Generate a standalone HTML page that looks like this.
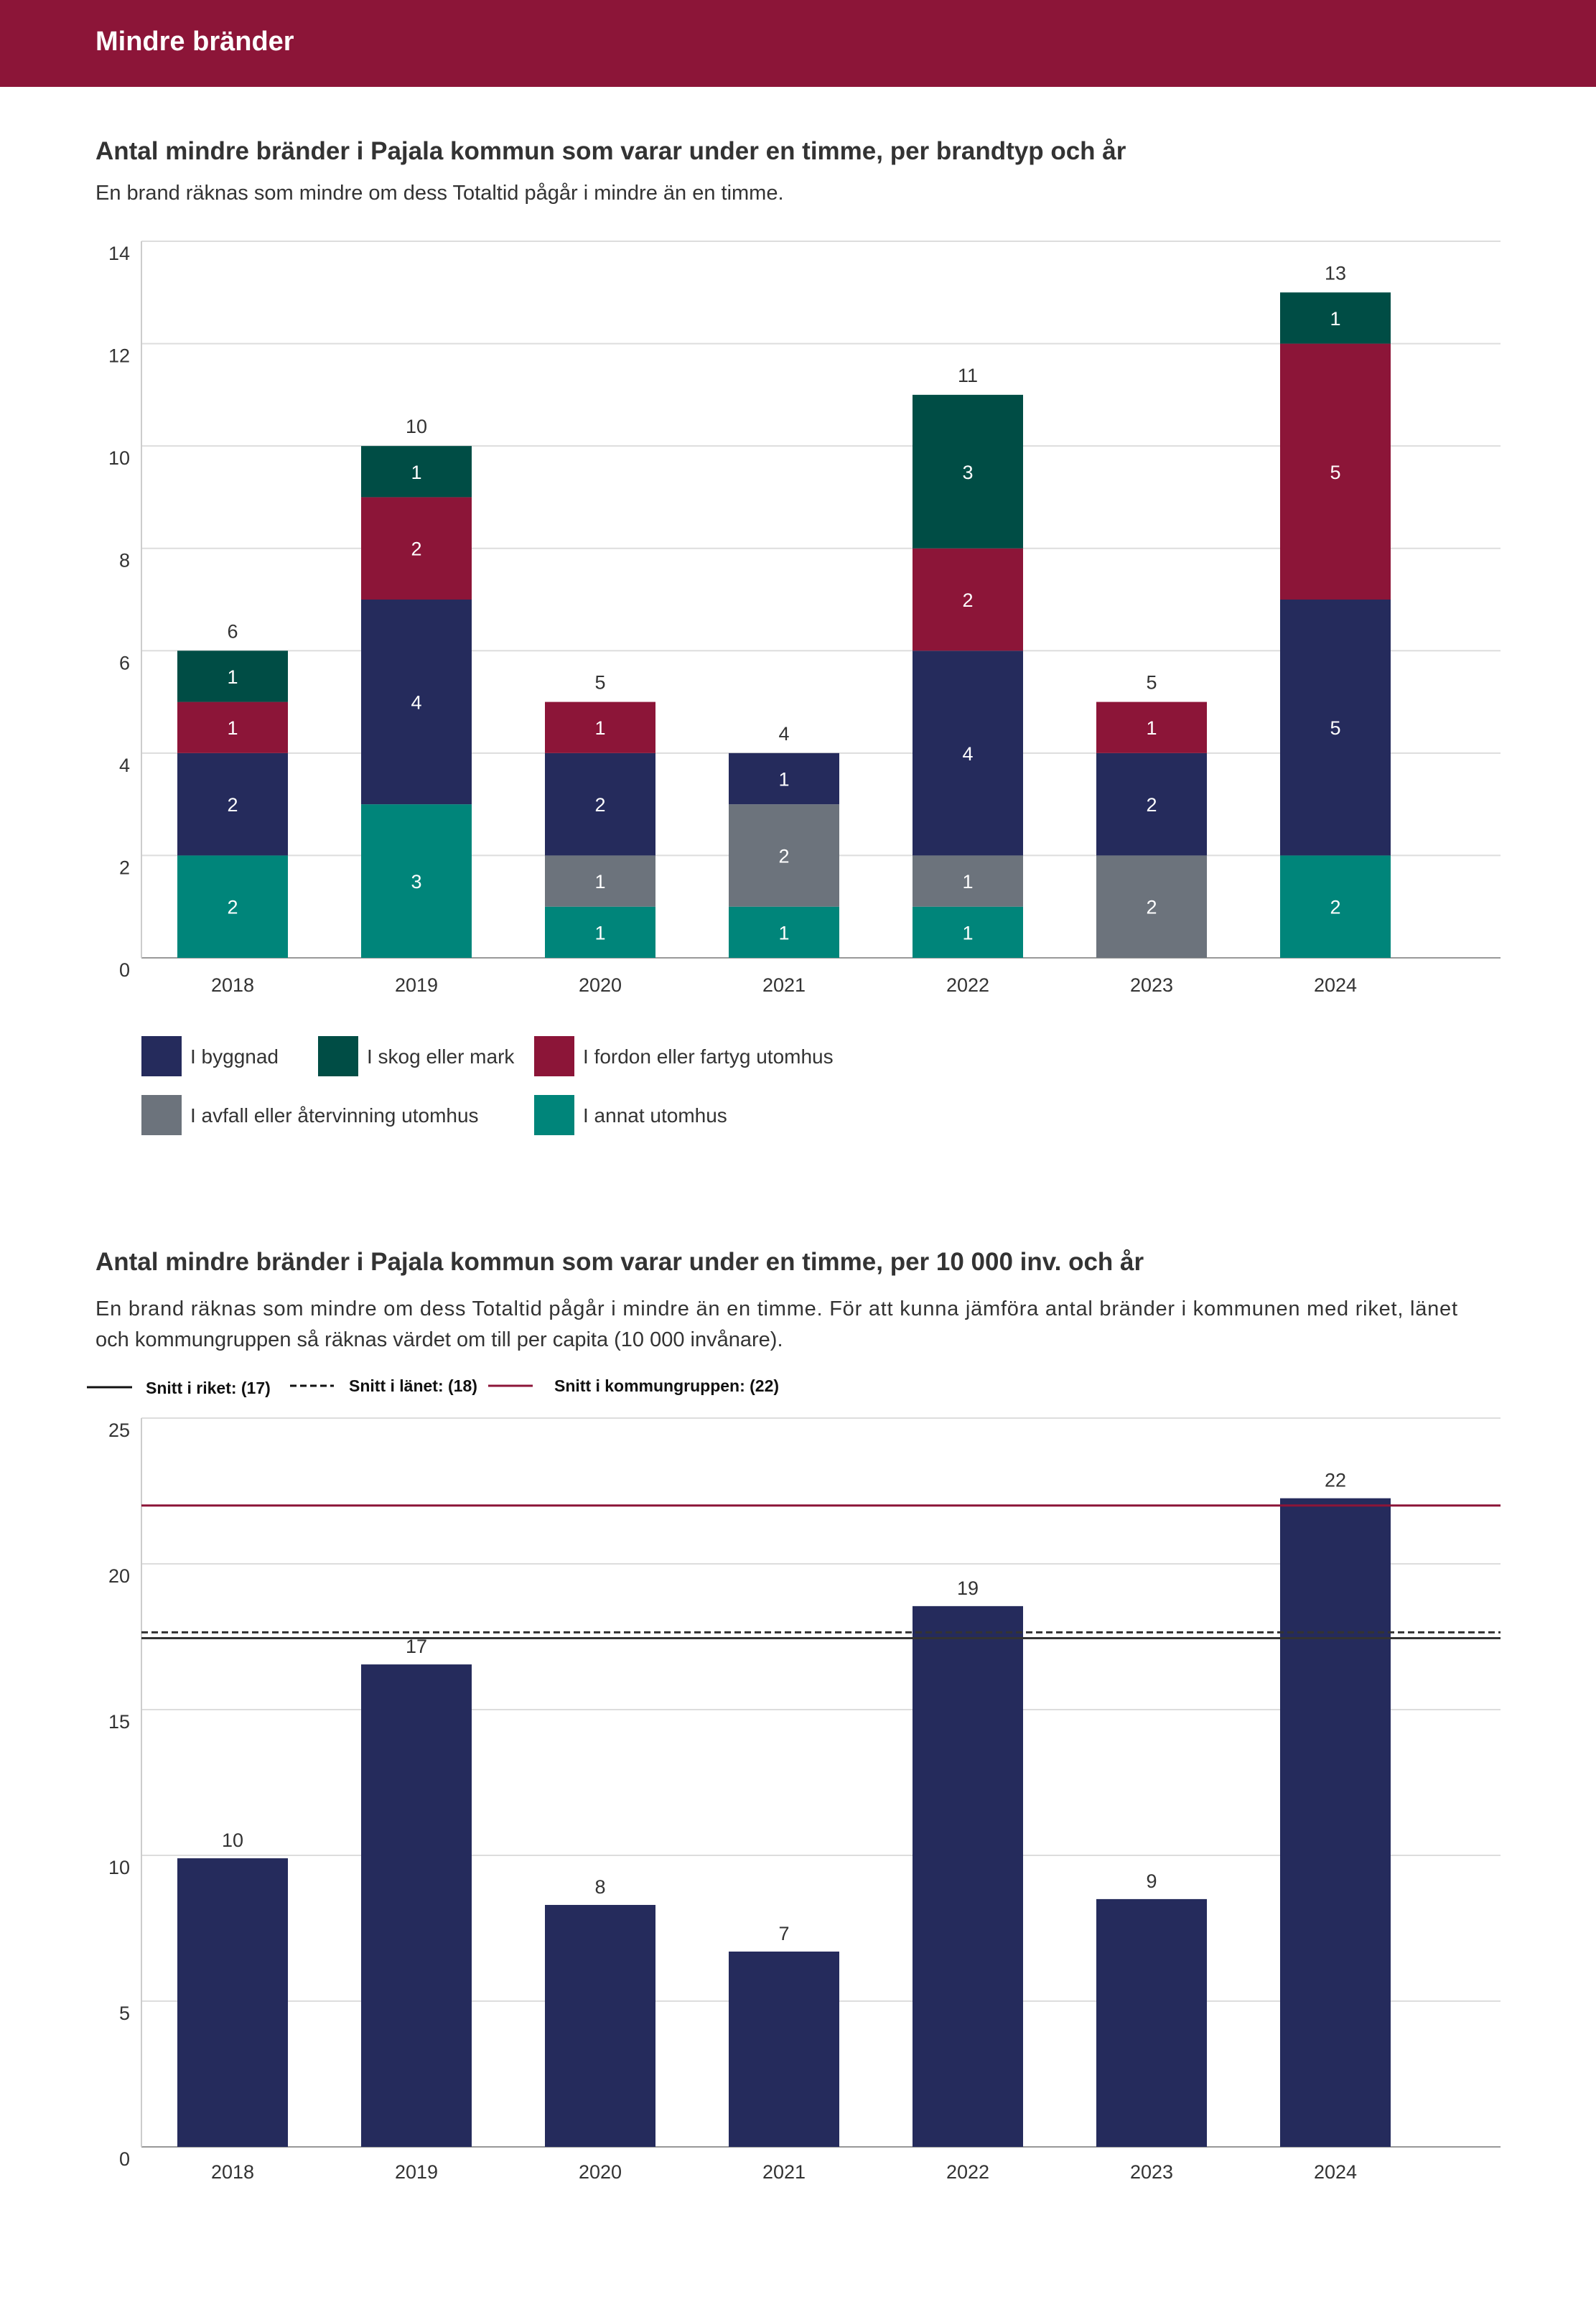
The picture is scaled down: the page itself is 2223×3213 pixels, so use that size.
<!DOCTYPE html>
<html><head><meta charset="utf-8"><style>
html,body{margin:0;padding:0;background:#fff}
svg{display:block;font-family:"Liberation Sans",sans-serif}
</style></head><body>
<svg id="page" width="2223" height="3213" viewBox="0 0 2223 3213" xmlns="http://www.w3.org/2000/svg">
<rect x="0" y="0" width="2223" height="121" fill="#8c1538"/>
<text x="133" y="70" font-size="38" font-weight="bold" fill="#fff">Mindre bränder</text>
<text x="133" y="222" font-size="35" font-weight="bold" fill="#333">Antal mindre bränder i Pajala kommun som varar under en timme, per brandtyp och år</text>
<text x="133" y="278" font-size="29" fill="#333">En brand räknas som mindre om dess Totaltid pågår i mindre än en timme.</text>
<g id="c1"></g>
<g font-size="28" fill="#333">
<rect x="197" y="1443" width="56" height="56" fill="#252b5c"/>
<text x="265" y="1481">I byggnad</text>
<rect x="443" y="1443" width="56" height="56" fill="#004d45"/>
<text x="511" y="1481">I skog eller mark</text>
<rect x="744" y="1443" width="56" height="56" fill="#8c1538"/>
<text x="812" y="1481">I fordon eller fartyg utomhus</text>
<rect x="197" y="1525" width="56" height="56" fill="#6c737c"/>
<text x="265" y="1563">I avfall eller återvinning utomhus</text>
<rect x="744" y="1525" width="56" height="56" fill="#00857a"/>
<text x="812" y="1563">I annat utomhus</text>
</g>
<text x="133" y="1769" font-size="35" font-weight="bold" fill="#333">Antal mindre bränder i Pajala kommun som varar under en timme, per 10 000 inv. och år</text>
<text x="133" y="1832" font-size="29" fill="#333" textLength="1897" lengthAdjust="spacing">En brand räknas som mindre om dess Totaltid pågår i mindre än en timme. För att kunna jämföra antal bränder i kommunen med riket, länet</text>
<text x="133" y="1875" font-size="29" fill="#333">och kommungruppen så räknas värdet om till per capita (10 000 invånare).</text>
<g font-size="23" font-weight="bold" fill="#111">
<line x1="121" y1="1932" x2="184" y2="1932" stroke="#111" stroke-width="3"/>
<text x="203" y="1941">Snitt i riket: (17)</text>
<line x1="404" y1="1930" x2="465" y2="1930" stroke="#111" stroke-width="3" stroke-dasharray="9,5"/>
<text x="486" y="1938">Snitt i länet: (18)</text>
<line x1="680" y1="1930" x2="742" y2="1930" stroke="#8c1538" stroke-width="3"/>
<text x="772" y="1938">Snitt i kommungruppen: (22)</text>
</g>
<g id="c2"></g>
</svg>
<script>
const years=["2018","2019","2020","2021","2022","2023","2024"];
const annat=[2,3,1,1,1,0,2];
const avfall=[0,0,1,2,1,2,0];
const byggnad=[2,4,2,1,4,2,5];
const fordon=[1,2,1,0,2,1,5];
const skog=[1,1,0,0,3,0,1];
const ticks1=[0,2,4,6,8,10,12,14];
const perCapita=[9.9,16.55,8.3,6.7,18.55,8.5,22.25];
const perCapitaLabels=["10","17","8","7","19","9","22"];
const ticks2=[0,5,10,15,20,25];
const riket=17.45, lanet=17.65, kommungrupp=22.0;

const NS="http://www.w3.org/2000/svg";
function mk(parent,tag,attrs,txt){const e=document.createElementNS(NS,tag);for(const k in attrs)e.setAttribute(k,attrs[k]);if(txt!==undefined)e.textContent=txt;parent.appendChild(e);return e;}
const X0=197,X1=2090,firstC=324,step=256,bw=154;
const xc=i=>firstC+i*step;

// chart 1
const c1=document.getElementById('c1');
const y1=v=>1334-v*(998/14);
ticks1.forEach(t=>{
  const l=mk(c1,'line',{x1:X0,x2:X1,y1:y1(t),y2:y1(t),stroke:t===0?'#999':'#ddd','stroke-width':2});
  
  
  const tx=mk(c1,'text',{x:181,y:y1(t)+26,'text-anchor':'end','font-size':27,fill:'#333'},t);
  
  
});
const ax=mk(c1,'line',{x1:X0,x2:X0,y1:y1(14),y2:y1(0),stroke:'#ccc','stroke-width':2});


const series=[[annat,'#00857a','annat'],[avfall,'#6c737c','avfall'],[byggnad,'#252b5c','byggnad'],[fordon,'#8c1538','fordon'],[skog,'#004d45','skog']];
years.forEach((yr,i)=>{
  let base=0;
  series.forEach(([arr,col,nm])=>{
    const v=arr[i]; if(!v)return;
    const r=mk(c1,'rect',{x:xc(i)-bw/2,y:y1(base+v),width:bw,height:y1(base)-y1(base+v),fill:col});
    
    
    const t=mk(c1,'text',{x:xc(i),y:(y1(base)+y1(base+v))/2+10,'text-anchor':'middle','font-size':27,fill:'#fff'},v);
    
    
    base+=v;
  });
  const tt=mk(c1,'text',{x:xc(i),y:y1(base)-18,'text-anchor':'middle','font-size':27,fill:'#333'},base);
  
  
  const xl=mk(c1,'text',{x:xc(i),y:1381,'text-anchor':'middle','font-size':27,fill:'#333'},yr);
  
  
});

// chart 2
const c2=document.getElementById('c2');
const y2=v=>2990-v*(1015/25);
ticks2.forEach(t=>{
  const l=mk(c2,'line',{x1:X0,x2:X1,y1:y2(t),y2:y2(t),stroke:t===0?'#999':'#ddd','stroke-width':2});
  
  
  const tx=mk(c2,'text',{x:181,y:y2(t)+26,'text-anchor':'end','font-size':27,fill:'#333'},t);
  
  
});
const ax2=mk(c2,'line',{x1:X0,x2:X0,y1:y2(25),y2:y2(0),stroke:'#ccc','stroke-width':2});


years.forEach((yr,i)=>{
  const v=perCapita[i];
  const r=mk(c2,'rect',{x:xc(i)-bw/2,y:y2(v),width:bw,height:y2(0)-y2(v),fill:'#252b5c'});
  
  
  const t=mk(c2,'text',{x:xc(i),y:y2(v)-16,'text-anchor':'middle','font-size':27,fill:'#333'},perCapitaLabels[i]);
  
  
  const xl=mk(c2,'text',{x:xc(i),y:3034,'text-anchor':'middle','font-size':27,fill:'#333'},yr);
  
  
});
const lr=mk(c2,'line',{x1:X0,x2:X1,y1:y2(riket),y2:y2(riket),stroke:'#333','stroke-width':3});


const ll=mk(c2,'line',{x1:X0,x2:X1,y1:y2(lanet),y2:y2(lanet),stroke:'#333','stroke-width':3,'stroke-dasharray':'9,5'});


const lk=mk(c2,'line',{x1:X0,x2:X1,y1:y2(kommungrupp),y2:y2(kommungrupp),stroke:'#8c1538','stroke-width':3});


</script>
</body></html>
